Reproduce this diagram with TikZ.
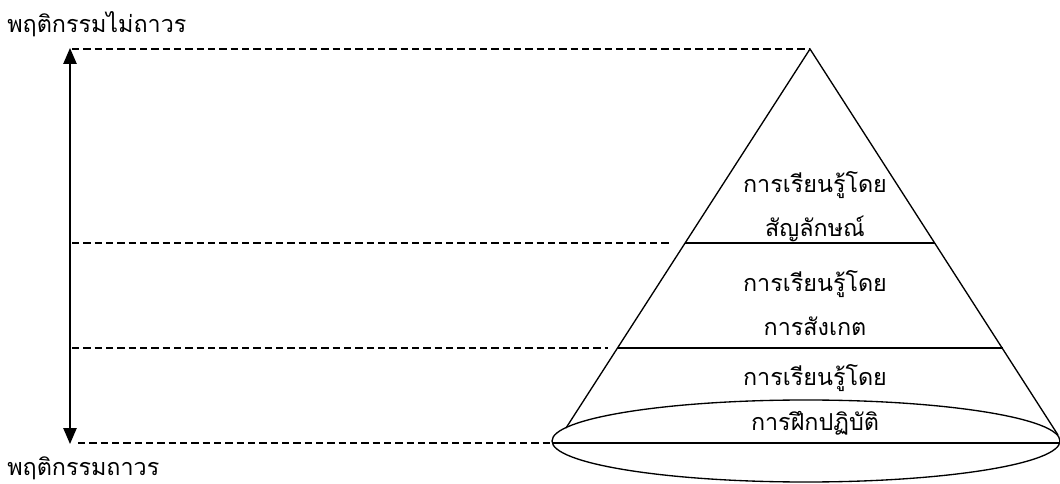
\documentclass[tikz,border=0pt]{standalone}
\usepackage{fontspec}
\newfontfamily\thaifont[Script=Thai]{Loma}
\usetikzlibrary{arrows.meta}
\begin{document}
\begin{tikzpicture}[x=0.75pt,y=-0.75pt,
  lbl/.style={font=\thaifont\fontsize{17.5}{19}\selectfont, inner sep=0pt},
  guide/.style={dashed, dash pattern=on 5.5pt off 3pt, line width=0.9pt},
  edge/.style={line width=1pt}]
\useasboundingbox (0,0) rectangle (1060,484);

% apex, base ellipse and layer boundaries
\coordinate (apex) at (810,49);
\coordinate (bl) at (566,428);
\coordinate (br) at (1058,435);
\coordinate (l1) at (685,243);
\coordinate (r1) at (935,243);
\coordinate (l2) at (618,348);
\coordinate (r2) at (1003,348);

\draw[edge] (806,441) ellipse [x radius=254, y radius=41];
\draw[edge] (552,443) -- (1060,443);
\draw[edge] (bl) -- (apex) -- (br);
\draw[edge] (l1) -- (r1);
\draw[edge] (l2) -- (r2);

% dashed reference levels
\coordinate (a0) at (72,49);
\coordinate (a1) at (72,243);
\coordinate (a2) at (72,348);
\coordinate (a3) at (78,443);
\coordinate (e1) at (672,243);
\coordinate (e2) at (608,348);
\coordinate (e3) at (552,443);
\draw[guide] (a0) -- (apex);
\draw[guide] (a1) -- (e1);
\draw[guide] (a2) -- (e2);
\draw[guide] (a3) -- (e3);

% scale arrow
\coordinate (top) at (70,48);
\coordinate (bot) at (70,444);
\draw[line width=1.1pt, {Triangle[length=12pt,width=10pt]}-{Triangle[length=12pt,width=10pt]}] (top) -- (bot);

% labels
\node[lbl, anchor=west] (tl) at (7,24) {พฤติกรรมไม่ถาวร};
\node[lbl, anchor=west] (bl2) at (7,468) {พฤติกรรมถาวร};

\node[lbl] (s1) at (815,185) {การเรียนรู้โดย};
\node[lbl] (s2) at (815,229) {สัญลักษณ์};
\node[lbl] (o1) at (815,284) {การเรียนรู้โดย};
\node[lbl] (o2) at (815,326) {การสังเกต};
\node[lbl] (p1) at (815,378) {การเรียนรู้โดย};
\node[lbl] (p2) at (815,423) {การฝึกปฏิบัติ};
\end{tikzpicture}
\end{document}
